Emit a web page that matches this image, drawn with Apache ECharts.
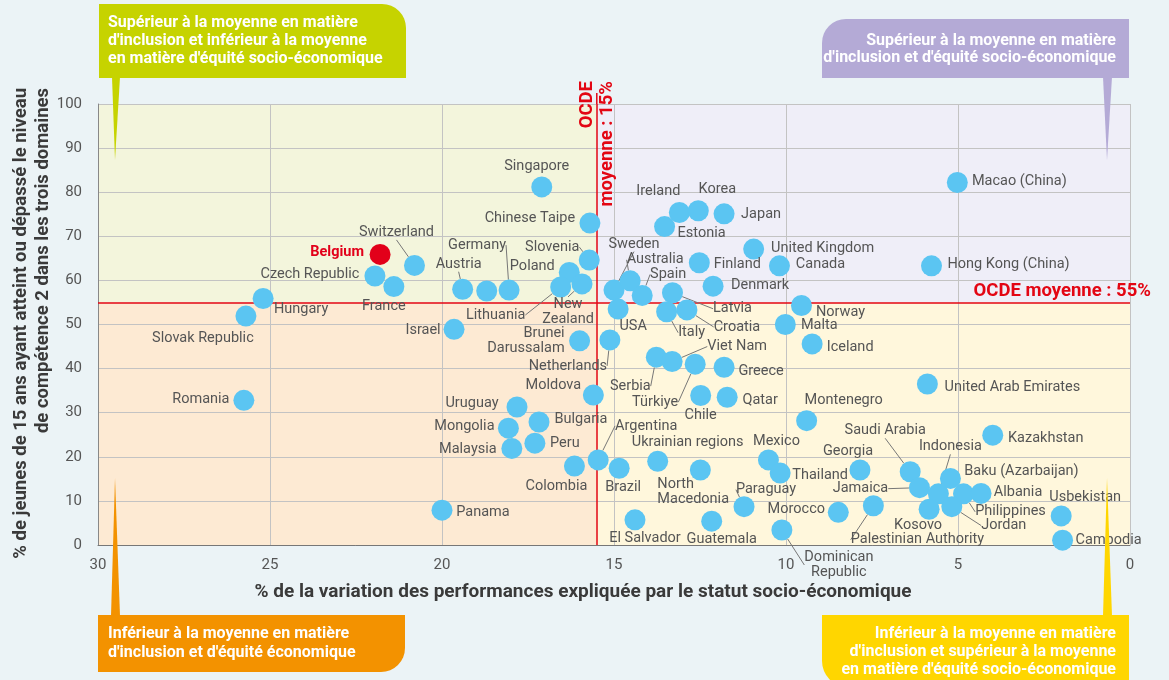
<!DOCTYPE html>
<html><head><meta charset="utf-8">
<script src="https://cdn.jsdelivr.net/npm/echarts@6/dist/echarts.min.js"></script>
<style>html,body{margin:0;padding:0;background:#ebf3f6}#c{width:1169px;height:680px}</style>
</head><body><div id="c"></div><script>
// ---- DATA ----
const countries = ['Singapore','Chinese Taipe','Belgium','Switzerland','Czech Republic','France','Hungary','Slovak Republic','Austria','','Germany','Israel','Poland','Lithuania','New Zealand','Slovenia','Brunei Darussalam','Netherlands','Moldova','Sweden','USA','Australia','Spain','Ireland','Korea','Japan','Estonia','United Kingdom','Finland','Canada','Denmark','Latvia','Italy','Croatia','Norway','Malta','Iceland','Macao (China)','Hong Kong (China)','Serbia','Viet Nam','Türkiye','Greece','Chile','Qatar','Montenegro','Argentina','Brazil','Ukrainian regions','North Macedonia','Mexico','Thailand','Georgia','Paraguay','Morocco','Dominican Republic','El Salvador','Guatemala','Palestinian Authority','Colombia','Romania','Uruguay','Bulgaria','Mongolia','Malaysia','Peru','Panama','United Arab Emirates','Kazakhstan','Saudi Arabia','Jamaica','Indonesia','Baku (Azarbaijan)','Philippines','Albania','Kosovo','Jordan','Usbekistan','Cambodia'];
// % of performance variation explained by socio-economic status (x)
const variation = [17.1,15.7,21.8,20.8,21.95,21.4,25.2,25.7,19.4,18.7,18.05,19.65,16.3,16.55,15.93,15.72,16.0,15.12,15.6,15.0,14.88,14.53,14.18,13.1,12.55,11.8,13.53,10.94,12.52,10.19,12.12,13.3,13.47,12.88,9.55,10.02,9.24,5.02,5.77,13.77,13.31,12.64,11.8,12.48,11.71,9.4,15.46,14.85,13.73,12.49,10.51,10.17,7.85,11.22,8.48,10.12,14.39,12.16,7.46,16.15,25.76,17.82,17.18,18.07,17.97,17.3,20.0,5.89,3.99,6.39,6.12,5.57,5.22,4.84,4.33,5.84,5.18,2.0,1.96];
// % of 15-year-olds at or above level 2 in all three domains (y)
const inclusion = [81.2,73.0,65.9,63.4,61.0,58.6,55.9,51.9,58.0,57.6,57.8,48.9,61.8,58.5,59.2,64.6,46.3,46.5,34.0,57.8,53.5,59.9,56.6,75.4,75.8,75.1,72.2,67.1,64.0,63.3,58.7,57.2,52.9,53.3,54.3,50.0,45.6,82.2,63.3,42.6,41.6,41.0,40.3,33.9,33.5,28.2,19.3,17.4,19.0,17.0,19.3,16.3,17.0,8.7,7.4,3.4,5.7,5.4,8.9,17.9,32.8,31.3,27.9,26.5,21.9,23.1,7.9,36.5,24.9,16.6,13.0,11.6,15.1,11.6,11.7,8.1,8.7,6.6,1.1];
const highlight = 'Belgium';
const oecdVariation = 15.5;
const oecdInclusion = 55;
const xTickInterval = 5;
const yTickInterval = 10;

// ---- LABEL PLACEMENT (style only) : [dx, dy, leaderLine, align] ----
const LABEL_POS = {
 'Singapore':[-5,-21],'Chinese Taipe':[-60,-5],'Belgium':[-43,-2],'Switzerland':[-18,-33,1],
 'Czech Republic':[-65,-2],'France':[-10,20],'Hungary':[38,11],'Slovak Republic':[-43,22],
 'Austria':[-4,-25,1],'Germany':[-32,-45,1],'Israel':[-31,1],'Poland':[-37,-6],
 'Lithuania':[-65,28,1],'New Zealand':[-14,28,1],'Slovenia':[-37,-13,1],'Brunei Darussalam':[-15,0,0,'right'],
 'Netherlands':[-42,26,1],'Moldova':[-40,-10],'Sweden':[20,-46,1],'USA':[15,17],
 'Australia':[25,-21,1],'Spain':[26,-21,1],'Ireland':[-21,-21],'Korea':[19,-21],'Japan':[37,1],
 'Estonia':[37,7],'United Kingdom':[69,-1],'Finland':[38,2],'Canada':[41,-1],'Denmark':[47,-1],
 'Latvia':[60,16,1],'Italy':[25,21,1],'Croatia':[50,17,1],'Norway':[39,7],'Malta':[34,1],
 'Iceland':[38,3],'Macao (China)':[62,-1],'Hong Kong (China)':[77,-1],'Serbia':[-26,29,1],
 'Viet Nam':[65,-15,1],'Türkiye':[-40,38,1],'Greece':[37,4],'Chile':[0,20],'Qatar':[33,3],
 'Montenegro':[37,-20],'Argentina':[48,-34,1],'Brazil':[4,19],'Ukrainian regions':[30,-19],
 'North Macedonia':[-43,22,1,'left'],'Mexico':[8,-19],'Thailand':[40,2],'Georgia':[-12,-19],
 'Paraguay':[22,-17,1],'Morocco':[-42,-3],'Dominican Republic':[57,35,1],'El Salvador':[10,19],
 'Guatemala':[10,18],'Palestinian Authority':[44,34,1],'Colombia':[-18,20],'Romania':[-43,-1],
 'Uruguay':[-45,-4],'Bulgaria':[42,-3],'Mongolia':[-44,-2],'Malaysia':[-44,1],'Peru':[30,0],
 'Panama':[41,2],'United Arab Emirates':[85,3],'Kazakhstan':[53,3],'Saudi Arabia':[-25,-41,1],
 'Jamaica':[-59,1,1],'Indonesia':[12,-47,1],'Baku (Azarbaijan)':[71,-7],'Philippines':[47,18,1],
 'Albania':[37,-1],'Kosovo':[-11,16],'Jordan':[52,19,1],'Usbekistan':[24,-19],'Cambodia':[46,0]
};
const LABEL_TEXT = {'New Zealand':'New\nZealand','Brunei Darussalam':'Brunei\nDarussalam','North Macedonia':'North\nMacedonia','Dominican Republic':'Dominican\nRepublic'};

const FONT = 'Roboto';
const chart = echarts.init(document.getElementById('c'));

const points = countries.map((n, i) => {
  const p = LABEL_POS[n] || [0,0,0];
  const isHi = n === highlight;
  return {
    name: n,
    value: [variation[i], inclusion[i]],
    itemStyle: isHi ? {color:'#e2001a'} : undefined,
    label: {
      show: n !== '',
      formatter: LABEL_TEXT[n] || n,
      align: p[3] || 'center',
      color: isHi ? '#e2001a' : '#555',
      fontWeight: isHi ? 'bold' : 'normal'
    },
    labelLine: {show: !!p[2]}
  };
});

const option = {
  backgroundColor: '#ebf3f6',
  textStyle: {fontFamily: FONT},
  animation: false,
  grid: {left: 98, right: 39, top: 104, bottom: 135, containLabel: false},
  xAxis: {
    type: 'value', inverse: true, min: 0, max: 30, interval: xTickInterval, z: 1,
    axisLine: {show: true, onZero: false, lineStyle: {color: '#777', width: 1}},
    axisTick: {show: false},
    axisLabel: {color: '#555', fontSize: 15, margin: 13, fontFamily: FONT},
    splitLine: {show: true, lineStyle: {color: '#c3c3c3', width: 1}}
  },
  yAxis: {
    type: 'value', min: 0, max: 100, interval: yTickInterval, z: 1,
    axisLine: {show: true, onZero: false, lineStyle: {color: '#888', width: 1}},
    axisTick: {show: false},
    axisLabel: {color: '#555', fontSize: 15, margin: 16, fontFamily: FONT},
    splitLine: {show: true, lineStyle: {color: '#c3c3c3', width: 1}}
  },
  series: [
    {
      type: 'scatter', data: [], silent: true, z: 0,
      markArea: {
        silent: true, z: -1,
        data: [
          [{coord: [30, 100], itemStyle: {color: '#f3f5dc'}}, {coord: [oecdVariation, oecdInclusion]}],
          [{coord: [oecdVariation, 100], itemStyle: {color: '#efeef8'}}, {coord: [0, oecdInclusion]}],
          [{coord: [30, oecdInclusion], itemStyle: {color: '#fdead3'}}, {coord: [oecdVariation, 0]}],
          [{coord: [oecdVariation, oecdInclusion], itemStyle: {color: '#fff7dc'}}, {coord: [0, 0]}]
        ]
      }
    },
    {
      type: 'scatter', data: [], silent: true, z: 1.5,
      markLine: {
        silent: true, symbol: ['none','none'], z: 1.5,
        lineStyle: {color: '#e30613', width: 1.5, type: 'solid'},
        label: {show: false},
        data: [{xAxis: oecdVariation}, {yAxis: oecdInclusion}]
      }
    },
    {
      type: 'scatter', z: 3,
      symbolSize: 21,
      itemStyle: {color: '#5bc5f2', opacity: 1},
      data: points,
      label: {
        show: true, position: 'inside', fontSize: 14.5, fontFamily: FONT, color: '#555',
        lineHeight: 15
      },
      labelLine: {show: false, lineStyle: {color: '#777', width: 1}},
      labelLayout: function (params) {
        if (params.seriesIndex !== 2) return {};
        const n = countries[params.dataIndex];
        const p = LABEL_POS[n] || [0,0];
        return {dx: p[0], dy: p[1]};
      }
    }
  ],
  graphic: []
};
chart.setOption(option);

const oecdPx = chart.convertToPixel({gridIndex: 0}, [oecdVariation, oecdInclusion]);
const topRight = chart.convertToPixel({gridIndex: 0}, [0, 100]);
const W = '#ffffff';
const boxFont = 'bold 16px Roboto';
chart.setOption({
  graphic: [
    // y axis title
    {type: 'text', x: 32, y: 88, rotation: Math.PI / 2, z: 50,
     style: {text: '% de jeunes de 15 ans ayant atteint ou dépassé le niveau\nde compétence 2 dans les trois domaines',
       font: 'bold 18.5px Roboto', fill: '#3a3a3a', align: 'right', verticalAlign: 'middle', lineHeight: 22}},
    // x axis title
    {type: 'text', x: 583, y: 592, z: 50,
     style: {text: '% de la variation des performances expliquée par le statut socio-économique',
       font: 'bold 19px Roboto', fill: '#3a3a3a', align: 'center', verticalAlign: 'middle'}},
    // OECD labels
    {type: 'text', x: topRight[0] + 21, y: oecdPx[1] - 11, z: 50,
     style: {text: 'OCDE moyenne : 55%', font: 'bold 18.5px Roboto', fill: '#e30613', align: 'right', verticalAlign: 'middle'}},
    {type: 'text', x: oecdPx[0] + 1, y: topRight[1] - 23, rotation: Math.PI / 2, z: 50,
     style: {text: 'OCDE\nmoyenne : 15%', font: 'bold 18.5px Roboto', fill: '#e30613', align: 'right', verticalAlign: 'middle', lineHeight: 20}},
    {type: 'line', z: 50, shape: {x1: oecdPx[0], y1: topRight[1] - 11, x2: oecdPx[0], y2: topRight[1]},
     style: {stroke: '#e30613', lineWidth: 1.5}},
    // callout: top-left (green)
    {type: 'rect', z: 60, shape: {x: 99, y: 4, width: 307, height: 74, r: [0, 24, 0, 0]}, style: {fill: '#c6d300'}},
    {type: 'polygon', z: 60, shape: {points: [[112, 77], [120, 77], [115, 160]]}, style: {fill: '#c6d300'}},
    {type: 'text', z: 61, x: 108, y: 14,
     style: {text: "Supérieur à la moyenne en matière\nd'inclusion et inférieur à la moyenne\nen matière d'équité socio-économique",
       font: boxFont, fill: W, align: 'left', verticalAlign: 'top', lineHeight: 18}},
    // callout: top-right (lavender)
    {type: 'rect', z: 60, shape: {x: 822, y: 19, width: 307, height: 59, r: [24, 0, 0, 0]}, style: {fill: '#b4aad6'}},
    {type: 'polygon', z: 60, shape: {points: [[1103, 77], [1112, 77], [1107, 160]]}, style: {fill: '#b4aad6'}},
    {type: 'text', z: 61, x: 1116, y: 32,
     style: {text: "Supérieur à la moyenne en matière\nd'inclusion et d'équité socio-économique",
       font: boxFont, fill: W, align: 'right', verticalAlign: 'top', lineHeight: 17}},
    // callout: bottom-left (orange)
    {type: 'rect', z: 60, shape: {x: 98, y: 615, width: 307, height: 57, r: [0, 0, 24, 0]}, style: {fill: '#f39200'}},
    {type: 'polygon', z: 60, shape: {points: [[111, 616], [120, 616], [115, 478]]}, style: {fill: '#f39200'}},
    {type: 'text', z: 61, x: 108, y: 624,
     style: {text: "Inférieur à la moyenne en matière\nd'inclusion et d'équité économique",
       font: boxFont, fill: W, align: 'left', verticalAlign: 'top', lineHeight: 19}},
    // callout: bottom-right (yellow)
    {type: 'rect', z: 60, shape: {x: 822, y: 615, width: 307, height: 72, r: [0, 0, 0, 26]}, style: {fill: '#ffd600'}},
    {type: 'polygon', z: 60, shape: {points: [[1103, 616], [1112, 616], [1107, 478]]}, style: {fill: '#ffd600'}},
    {type: 'text', z: 61, x: 1116, y: 625,
     style: {text: "Inférieur à la moyenne en matière\nd'inclusion et supérieur à la moyenne\nen matière d'équité socio-économique",
       font: boxFont, fill: W, align: 'right', verticalAlign: 'top', lineHeight: 18}}
  ]
});
</script></body></html>
